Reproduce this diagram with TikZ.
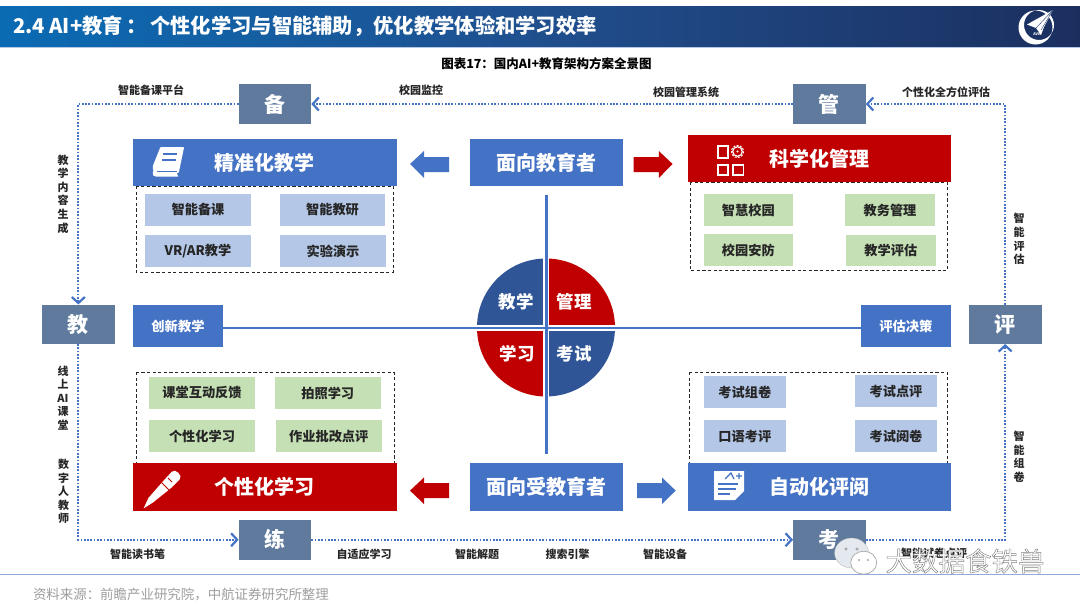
\documentclass[tikz,border=0pt]{standalone}
\usepackage{fontspec}
\setmainfont{Noto Sans CJK SC}
\usetikzlibrary{arrows.meta}
\definecolor{cblue}{HTML}{4472C4}
\definecolor{cred}{HTML}{C00000}
\definecolor{cslate}{HTML}{5F7A9C}
\definecolor{clblue}{HTML}{B4C7E7}
\definecolor{cgreen}{HTML}{C5E0B4}
\definecolor{cdeep}{HTML}{2F5597}
\definecolor{titleA}{HTML}{0A6BB3}
\definecolor{titleM}{HTML}{204F8E}
\definecolor{titleB}{HTML}{1B2F5F}
\definecolor{footline}{HTML}{8FAADC}
\definecolor{wmfill}{HTML}{E4E8EF}
\tikzset{
 x=1pt,y=-1pt,
 base/.style={inner sep=0pt,outer sep=0pt,align=center,font=\bfseries},
 slate/.style={base,fill=cslate,text=white,font=\bfseries\fontsize{21}{24}\selectfont},
 header/.style={base,text=white,font=\bfseries\fontsize{20}{24}\selectfont},
 bluehead/.style={header,fill=cblue},
 redhead/.style={header,fill=cred},
 small/.style={base,text=white,fill=cblue,font=\bfseries\fontsize{13.3}{15}\selectfont},
 lb/.style={base,fill=clblue,text=black!85,font=\bfseries\fontsize{13.2}{16}\selectfont},
 lg/.style={base,fill=cgreen,text=black!85,font=\bfseries\fontsize{13.2}{16}\selectfont},
 lab/.style={base,text=black!85,font=\bfseries\fontsize{11}{13.6}\selectfont},
 quad/.style={base,text=white,font=\bfseries\fontsize{17.5}{20}\selectfont},
 dashbox/.style={draw=black!85,line width=1pt,dash pattern=on 3.2pt off 2.4pt},
 loopline/.style={draw=cblue,line width=1.8pt,dash pattern=on 1.7pt off 1.6pt,
   -{Straight Barb[length=6pt,width=13pt,line width=2.2pt]}},
 axis/.style={draw=cblue,line width=2.6pt},
}
\newcommand\bxn[7]{%
 \pgfmathsetmacro\mycx{(#3+#5)/2}\pgfmathsetmacro\mycy{(#4+#6)/2}%
 \pgfmathsetmacro\myw{#5-#3}\pgfmathsetmacro\myh{#6-#4}%
 \node[#2,minimum width=\myw pt,minimum height=\myh pt] (#1) at (\mycx,\mycy) {#7};}
\begin{document}
\begin{tikzpicture}
\useasboundingbox (0,0) rectangle (1080,608);
\fill[white] (0,0) rectangle (1080,608);
% title bar
\fill[left color=titleA,right color=titleB,middle color=titleM] (0,6) rectangle (1080,47);
\draw[color=cblue!40,line width=0.7pt] (0,47.3) -- (1080,47.3);
\node[base,anchor=west,text=white,font=\bfseries\fontsize{20.3}{24}\selectfont] (title) at (13,26.5) {2.4 AI+教育\kern4pt：\kern3pt 个性化学习与智能辅助，优化教学体验和学习效率};
% logo
\fill[white,even odd rule] (1035.5,27.5) circle (17) (1039,25) circle (15);
\fill[white] (1053,10) -- (1027,24.5) -- (1036,28) -- (1041,35) -- (1044,27) -- cycle;
\draw[cdeep!70!black,line width=0.4pt] (1053,10) -- (1036,28) (1053,10) -- (1041,30);
\node[base,text=white,font=\bfseries\fontsize{3.6}{4}\selectfont] (avic) at (1037.5,34.5) {AVIC};
\node[base,text=black,font=\bfseries\fontsize{12.5}{15}\selectfont] (caption) at (546.5,64) {图表17：国内AI+教育架构方案全景图};
% stage boxes
\bxn{bei}{slate}{238.6}{84}{311.3}{124}{备}
\bxn{guan}{slate}{793}{84}{865.8}{124}{管}
\bxn{jiao}{slate}{42}{304.5}{114.7}{344}{教}
\bxn{ping}{slate}{968.7}{304.5}{1041.7}{344}{评}
\bxn{lian}{slate}{238.6}{520}{311.3}{559.5}{练}
\bxn{kao}{slate}{793}{520}{865.8}{559.5}{考}
% dotted loop
\path[loopline] (guan.west) -- (bei.east);
\path[loopline] (bei.west) -| (jiao.north);
\path[loopline] (jiao.south) |- (lian.west);
\path[loopline] (lian.east) -- (kao.west);
\path[loopline] (kao.east) -| (ping.south);
\path[loopline] (ping.north) |- (guan.east);
% dashed frames
\draw[dashbox] (136,186) rectangle (393,272);
\draw[dashbox] (690,182) rectangle (947,270.5);
\draw[dashbox] (136.7,372) rectangle (394,463);
\draw[dashbox] (689.5,372) rectangle (947,463);
% headers
\bxn{jz}{bluehead}{133}{139}{396.7}{186}{精准化教学}
\bxn{kx}{redhead}{687.7}{135}{950.5}{182}{科学化管理}
\bxn{gx}{redhead}{133}{463}{396.7}{510.5}{个性化学习}
\bxn{zd}{bluehead}{687.7}{463}{950.5}{510.5}{自动化评阅}
\bxn{mj}{bluehead}{470}{139}{622.6}{186}{面向教育者}
\bxn{ms}{bluehead}{470}{463}{622.6}{510.5}{面向受教育者}
% sub boxes
\bxn{a1}{lb}{145}{193.5}{251}{226}{智能备课}
\bxn{a2}{lb}{280}{193.5}{385}{226}{智能教研}
\bxn{a3}{lb}{145}{235}{251}{267}{VR/AR教学}
\bxn{a4}{lb}{280}{235}{386}{267}{实验演示}
\bxn{b1}{lg}{703.6}{194}{793}{226}{智慧校园}
\bxn{b2}{lg}{845}{194}{935}{226}{教务管理}
\bxn{b3}{lg}{703.6}{234}{793}{266}{校园安防}
\bxn{b4}{lg}{846}{235}{935.7}{266}{教学评估}
\bxn{c1}{lg}{149}{377}{255}{409}{课堂互动反馈}
\bxn{c2}{lg}{275}{377}{380.5}{409}{拍照学习}
\bxn{c3}{lg}{149}{420}{255}{452}{个性化学习}
\bxn{c4}{lg}{276}{420}{381.5}{452}{作业批改点评}
\bxn{d1}{lb}{703.6}{376}{786}{408}{考试组卷}
\bxn{d2}{lb}{855}{375}{937}{407}{考试点评}
\bxn{d3}{lb}{703.6}{420}{786}{452}{口语考评}
\bxn{d4}{lb}{855}{420}{937}{452}{考试阅卷}
% block arrows
\fill[cblue] (410,164) -- (424,151) -- (424,157) -- (449,157) -- (449,172) -- (424,172) -- (424,178) -- cycle;
\fill[cred] (672.6,164) -- (658.8,151) -- (658.8,157) -- (633.7,157) -- (633.7,172) -- (658.8,172) -- (658.8,178) -- cycle;
\fill[cred] (410,490.6) -- (424,477.5) -- (424,483) -- (449,483) -- (449,498) -- (424,498) -- (424,504) -- cycle;
\fill[cblue] (675.7,490.6) -- (662,477.5) -- (662,483) -- (637,483) -- (637,498) -- (662,498) -- (662,504) -- cycle;
% circle
\fill[cdeep] (546,327.5) -- (477,327.5) arc[start angle=180,end angle=270,radius=69] -- cycle;
\fill[cred] (546,327.5) -- (546,258.5) arc[start angle=270,end angle=360,radius=69] -- cycle;
\fill[cred] (546,327.5) -- (546,396.5) arc[start angle=90,end angle=180,radius=69] -- cycle;
\fill[cdeep] (546,327.5) -- (615,327.5) arc[start angle=0,end angle=90,radius=69] -- cycle;
% axes
\coordinate (vtop) at (546,195);
\coordinate (vbot) at (546,454);
\bxn{cx}{small}{133}{305}{223}{347}{创新教学}
\bxn{pg}{small}{861.3}{305}{950.5}{347}{评估决策}
\draw[white,line width=5.5pt] (476,328) -- (616,328);
\draw[white,line width=6pt] (546,250) -- (546,400);
\draw[axis] ([yshift=-2pt]cx.east) -- ([yshift=-2pt]pg.west);
\draw[axis,line width=3pt] (vtop) -- (vbot);
\node[quad] (q1) at (516,302) {教学};
\node[quad] (q2) at (574,302) {管理};
\node[quad] (q3) at (517,354) {学习};
\node[quad] (q4) at (574,354) {考试};
% icon: book
\begin{scope}[white]
\draw[line width=1.8pt,line join=round,fill=white] (161,148) -- (183,148) -- (178,172) -- (157,172) .. controls (153,172) and (153,166) .. (155,163) -- cycle;
\fill[white] (178,176.5) -- (156,176.5) .. controls (152,176.5) and (152,172) .. (154,170) -- (176,170) -- cycle;
\draw[cblue,line width=1.2pt] (156.5,171.8) -- (176.5,171.8);
\draw[cblue,line width=1.3pt] (163,154) -- (177,154) (162,160) -- (176,160);
% icon: grid
\draw[line width=1.6pt] (718,146) rectangle (728,158);
\draw[line width=1.6pt] (718,165) rectangle (728,175);
\draw[line width=1.6pt] (733,165) rectangle (743.5,175);
\draw[line width=1.2pt] (737.5,151.5) circle (4.8);
\draw[line width=1pt,dash pattern=on 2pt off 1.4pt] (737.5,151.5) circle (6);
\fill[white] (737.5,151.5) circle (1.2);
% icon: pen
\fill[rotate around={45:(162,490)}] (147,486) -- (170,484.5) -- (182,484) .. controls (187,484) and (187,495) .. (182,495) -- (170,495) -- (147,492.5) -- (136,490) -- cycle;
\draw[cred,line width=1pt] (160,481) -- (175,496) (168,478) -- (172,482);
% icon: document
\fill (714,471) -- (744,471) -- (744,491) -- (735,500) -- (714,500) -- cycle;
\draw[cblue,line width=1.5pt] (718,484) -- (738,484) (718,489) -- (736,489) (718,494) -- (730,494);
\draw[cblue,line width=1.3pt] (725,479) -- (731,473) -- (734,479) (736,476) -- (742,476) (739,473) -- (739,479);
\end{scope}
% labels
\node[lab] (t1) at (151,90) {智能备课平台};
\node[lab] (t2) at (421,90) {校园监控};
\node[lab] (t3) at (686,92) {校园管理系统};
\node[lab] (t4) at (946,92) {个性化全方位评估};
\node[lab] (v1) at (63,194) {教\\学\\内\\容\\生\\成};
\node[lab] (v2) at (63,398) {线\\上\\AI\\课\\堂};
\node[lab] (v3) at (63.5,491.5) {数\\字\\人\\教\\师};
\node[lab] (v4) at (1019,239) {智\\能\\评\\估};
\node[lab] (v5) at (1019,456.5) {智\\能\\组\\卷};
\node[lab] (u1) at (137.7,554) {智能读书笔};
\node[lab] (u2) at (364,554.5) {自适应学习};
\node[lab] (u3) at (477,554.5) {智能解题};
\node[lab] (u4) at (567.5,554.5) {搜索引擎};
\node[lab] (u5) at (665,554.5) {智能设备};
\node[lab] (u6) at (934,553) {智能试卷点评};
% footer
\draw[color=footline,line width=1pt] (0,574.5) -- (1080,574.5);
\node[base,anchor=west,text=black!38,font=\fontsize{13.45}{16}\selectfont] (src) at (33,594) {资料来源：前瞻产业研究院，中航证券研究所整理};
% watermark
\fill[wmfill,draw=gray!60,line width=0.3pt] (851.6,553) ellipse (17 and 15);
\fill[gray!70] (846,549) circle (1.6) (857,549) circle (1.6);
\draw[gray!70,fill=white,line width=0.7pt] (863.7,562.7) ellipse (13 and 11.5);
\fill[gray!70] (859,560) circle (1.1) (868,560) circle (1.1);
\node[base,font=\fontsize{26.5}{30}\selectfont] (wm) at (965,561) {\special{pdf:code q 2 Tr 0.45 w 0.5 G 1 g}大数据食铁兽\special{pdf:code Q}};
\end{tikzpicture}
\end{document}
